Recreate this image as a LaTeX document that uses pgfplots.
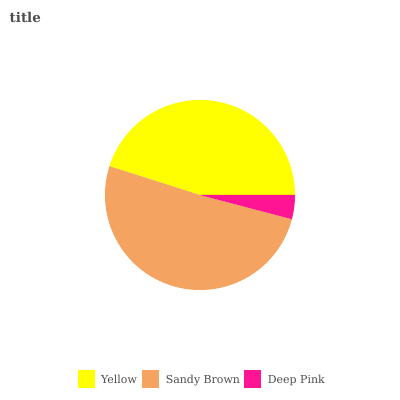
\documentclass[border=0pt]{standalone}
\usepackage{pgfplots}
\pgfplotsset{compat=1.18}
\usepackage{fontspec}
\setmainfont{DejaVu Serif}
\definecolor{cYellow}{HTML}{FFFF00}
\definecolor{cSandy}{HTML}{F4A460}
\definecolor{cPink}{HTML}{FF1493}
\definecolor{txt}{HTML}{4D4D4D}
% values (percent)
\def\vA{45.1}
\def\vB{50.8}
\def\vC{4.1}
\begin{document}
\begin{tikzpicture}
\begin{axis}[width=400bp,height=400bp,scale only axis,hide axis,
  xmin=0,xmax=400,ymin=0,ymax=400,clip=false]
\path[fill=white] (axis cs:0,0) rectangle (axis cs:400,400);
\pgfmathsetmacro\aA{\vA*3.6}
\pgfmathsetmacro\aB{\aA+\vB*3.6}
\pgfmathsetmacro\aC{\aB+\vC*3.6}
\fill[cYellow] (axis cs:200,205) -- ++(0:95bp) arc[start angle=0,end angle=\aA,radius=95bp] -- cycle;
\fill[cSandy] (axis cs:200,205) -- ++(\aA:95bp) arc[start angle=\aA,end angle=\aB,radius=95bp] -- cycle;
\fill[cPink] (axis cs:200,205) -- ++(\aB:95bp) arc[start angle=\aB,end angle=\aC,radius=95bp] -- cycle;
\node[anchor=base west,font=\bfseries\fontsize{13.5}{14}\selectfont,text=txt,inner sep=0] at (axis cs:9.5,377.5) {title};
\fill[cYellow] (axis cs:78,12.5) rectangle (axis cs:95,29.5);
\node[anchor=base west,font=\fontsize{11}{12}\selectfont,text=txt,inner sep=0] at (axis cs:101,17) {Yellow};
\fill[cSandy] (axis cs:141.7,12.5) rectangle (axis cs:158.7,29.5);
\node[anchor=base west,font=\fontsize{11}{12}\selectfont,text=txt,inner sep=0] at (axis cs:165.7,17) {Sandy Brown};
\fill[cPink] (axis cs:244,12.5) rectangle (axis cs:261,29.5);
\node[anchor=base west,font=\fontsize{11}{12}\selectfont,text=txt,inner sep=0] at (axis cs:267.7,17) {Deep Pink};
\end{axis}
\end{tikzpicture}
\end{document}
